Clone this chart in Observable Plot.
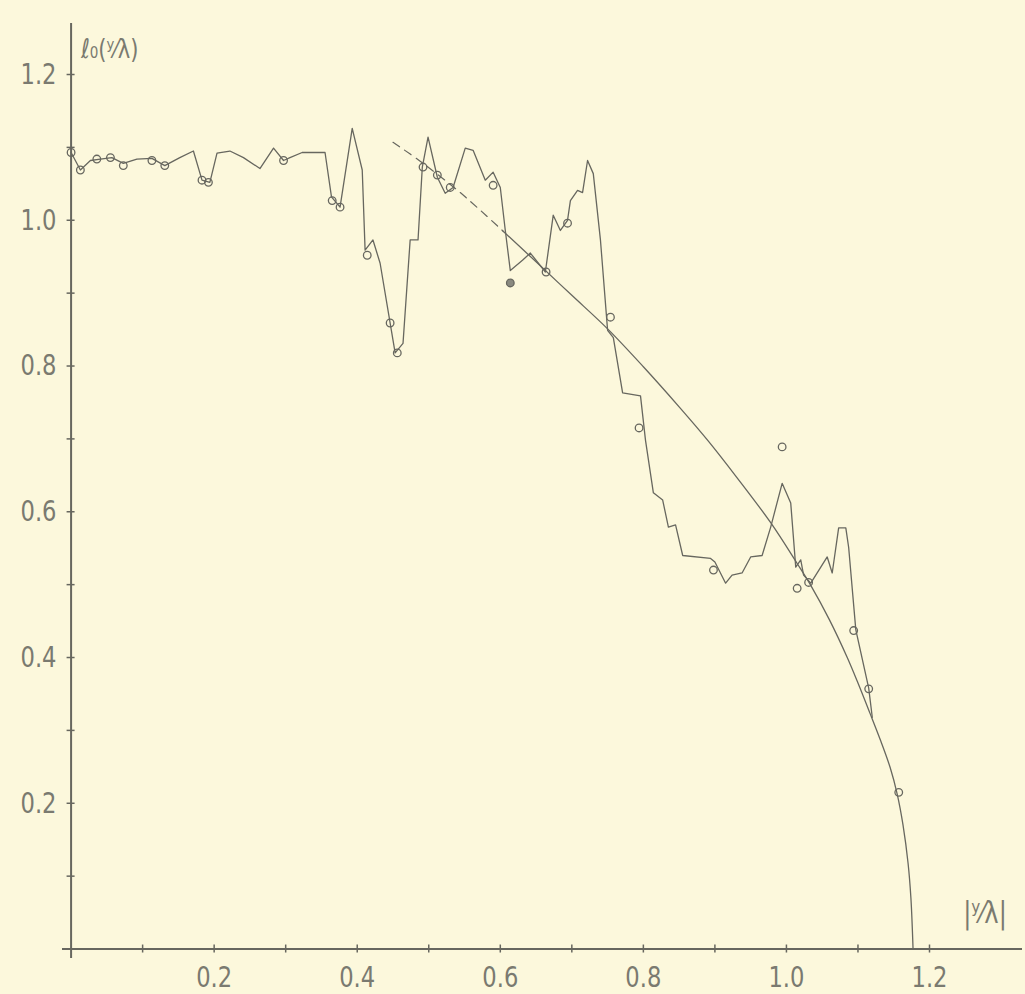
<!DOCTYPE html>
<html><head><meta charset="utf-8">
<script src="https://cdn.jsdelivr.net/npm/d3@7"></script>
<script src="https://cdn.jsdelivr.net/npm/@observablehq/plot@0.6"></script>
<style>
html,body{margin:0;padding:0;background:#fcf8dc;}
#chart{width:1025px;height:994px;overflow:hidden;}
</style></head><body><div id="chart"></div>
<script>
// measured (jagged) curve
const lineX = [0.000,0.013,0.027,0.041,0.057,0.073,0.092,0.113,0.131,0.152,0.171,0.183,0.194,0.204,0.222,0.241,0.264,0.283,0.297,0.306,0.323,0.355,0.364,0.376,0.393,0.407,0.411,0.422,0.432,0.453,0.464,0.474,0.485,0.491,0.499,0.512,0.523,0.534,0.551,0.562,0.579,0.590,0.600,0.607,0.614,0.631,0.642,0.663,0.674,0.684,0.694,0.698,0.708,0.715,0.722,0.730,0.740,0.750,0.758,0.771,0.796,0.803,0.814,0.827,0.835,0.845,0.855,0.894,0.900,0.915,0.924,0.938,0.950,0.966,0.978,0.994,1.006,1.013,1.020,1.024,1.034,1.057,1.064,1.073,1.083,1.087,1.097,1.115,1.120];
const lineY = [1.093,1.069,1.082,1.084,1.086,1.078,1.084,1.085,1.075,1.086,1.095,1.055,1.052,1.092,1.095,1.086,1.071,1.099,1.082,1.086,1.093,1.093,1.032,1.018,1.126,1.069,0.959,0.973,0.941,0.818,0.831,0.973,0.973,1.073,1.114,1.059,1.037,1.045,1.099,1.096,1.055,1.066,1.045,0.986,0.931,0.945,0.955,0.929,1.007,0.986,1.000,1.027,1.041,1.038,1.082,1.064,0.973,0.849,0.839,0.763,0.759,0.698,0.626,0.616,0.579,0.582,0.540,0.536,0.531,0.502,0.513,0.516,0.538,0.540,0.579,0.639,0.612,0.524,0.534,0.513,0.502,0.538,0.516,0.578,0.578,0.551,0.438,0.358,0.318];

// plotted observation circles
const circleX = [0.000,0.013,0.036,0.055,0.073,0.113,0.131,0.183,0.192,0.297,0.365,0.376,0.414,0.446,0.456,0.492,0.512,0.530,0.590,0.664,0.694,0.754,0.794,0.898,0.994,1.015,1.031,1.094,1.115,1.157];
const circleY = [1.093,1.069,1.084,1.086,1.075,1.082,1.075,1.055,1.052,1.082,1.027,1.018,0.952,0.859,0.818,1.073,1.062,1.045,1.048,0.929,0.996,0.867,0.715,0.520,0.689,0.495,0.503,0.437,0.357,0.215];
const filledX = [0.614];
const filledY = [0.914];

// smooth fitted curve: dashed extrapolation and solid part
const fitDashX = [0.450,0.488,0.544,0.604];
const fitDashY = [1.107,1.081,1.038,0.985];
const fitX = [0.604,0.650,0.700,0.750,0.800,0.850,0.890,0.930,0.978,1.015,1.034,1.060,1.085,1.100,1.117,1.132,1.145,1.155,1.163,1.170,1.174,1.177];
const fitY = [0.985,0.943,0.897,0.851,0.799,0.744,0.698,0.648,0.585,0.529,0.499,0.452,0.400,0.365,0.323,0.285,0.249,0.212,0.170,0.118,0.070,0.000];

const xTickLabels = [0.2,0.4,0.6,0.8,1.0,1.2];
const yTickLabels = [0.2,0.4,0.6,0.8,1.0,1.2];
const xMinorTicks = [0.1,0.2,0.3,0.4,0.5,0.6,0.7,0.8,0.9,1.0,1.1,1.2];
const yMinorTicks = [0.1,0.2,0.3,0.4,0.5,0.6,0.7,0.8,0.9,1.0,1.1,1.2];
const yAxisTitle = ["ℓ₀(ʸ⁄λ)"];
const xAxisTitle = ["|ʸ⁄λ|"];

const zip = (xs, ys) => xs.map((x, i) => ({x, y: ys[i]}));
const ink = "#67675f";
const txt = "#7a7a70";
const font = "'DejaVu Sans',sans-serif";

const chart = Plot.plot({
  width: 1025, height: 994,
  marginLeft: 62, marginRight: 3, marginTop: 23, marginBottom: 36,
  x: {domain: [-0.012, 1.33], axis: null},
  y: {domain: [-0.013, 1.27], axis: null},
  style: {background: "#fcf8dc", color: ink, fontFamily: font, fontSize: "29px"},
  marks: [
    Plot.ruleX([0], {stroke: ink, strokeWidth: 2}),
    Plot.ruleY([0], {stroke: ink, strokeWidth: 2}),
    Plot.ruleX(xMinorTicks, {x: d => d, y1: 0, y2: 0, insetTop: -4, insetBottom: -4, stroke: ink, strokeWidth: 1.5}),
    Plot.ruleY(yMinorTicks, {y: d => d, x1: 0, x2: 0, insetLeft: -4, insetRight: -4, stroke: ink, strokeWidth: 1.5}),
    Plot.axisX(xTickLabels, {tickSize: 0, tickPadding: 8, tickFormat: d3.format(".1f"), label: null, fontSize: 29, fill: txt, fontFamily: font}),
    Plot.axisY(yTickLabels, {tickSize: 0, tickPadding: 6, tickFormat: d3.format(".1f"), label: null, fontSize: 29, fill: txt, fontFamily: font}),
    Plot.line(zip(fitDashX, fitDashY), {x: "x", y: "y", curve: "catmull-rom", stroke: ink, strokeWidth: 1.2, strokeDasharray: "8,6"}),
    Plot.line(zip(fitX, fitY), {x: "x", y: "y", curve: "catmull-rom", stroke: ink, strokeWidth: 1.3}),
    Plot.line(zip(lineX, lineY), {x: "x", y: "y", stroke: ink, strokeWidth: 1.3, strokeLinejoin: "round"}),
    Plot.dot(zip(circleX, circleY), {x: "x", y: "y", r: 3.8, stroke: ink, fill: "none", strokeWidth: 1.3}),
    Plot.dot(zip(filledX, filledY), {x: "x", y: "y", r: 3.8, stroke: ink, fill: "#8a8a80", strokeWidth: 1.3}),
    Plot.text(yAxisTitle, {x: () => 0.014, y: () => 1.235, text: d => d, textAnchor: "start", fontSize: 27, fill: txt, fontFamily: font}),
    Plot.text(xAxisTitle, {x: () => 1.247, y: () => 0.05, text: d => d, textAnchor: "start", fontSize: 31, fill: txt, fontFamily: font})
  ]
});
document.getElementById("chart").appendChild(chart);
// condense the lettering like the drafting stencil of the original
d3.select(chart).selectAll("text").each(function() {
  const len = this.getComputedTextLength();
  if (len > 0) {
    this.setAttribute("textLength", (len * 0.78).toFixed(1));
    this.setAttribute("lengthAdjust", "spacingAndGlyphs");
  }
});
</script>
</body></html>
